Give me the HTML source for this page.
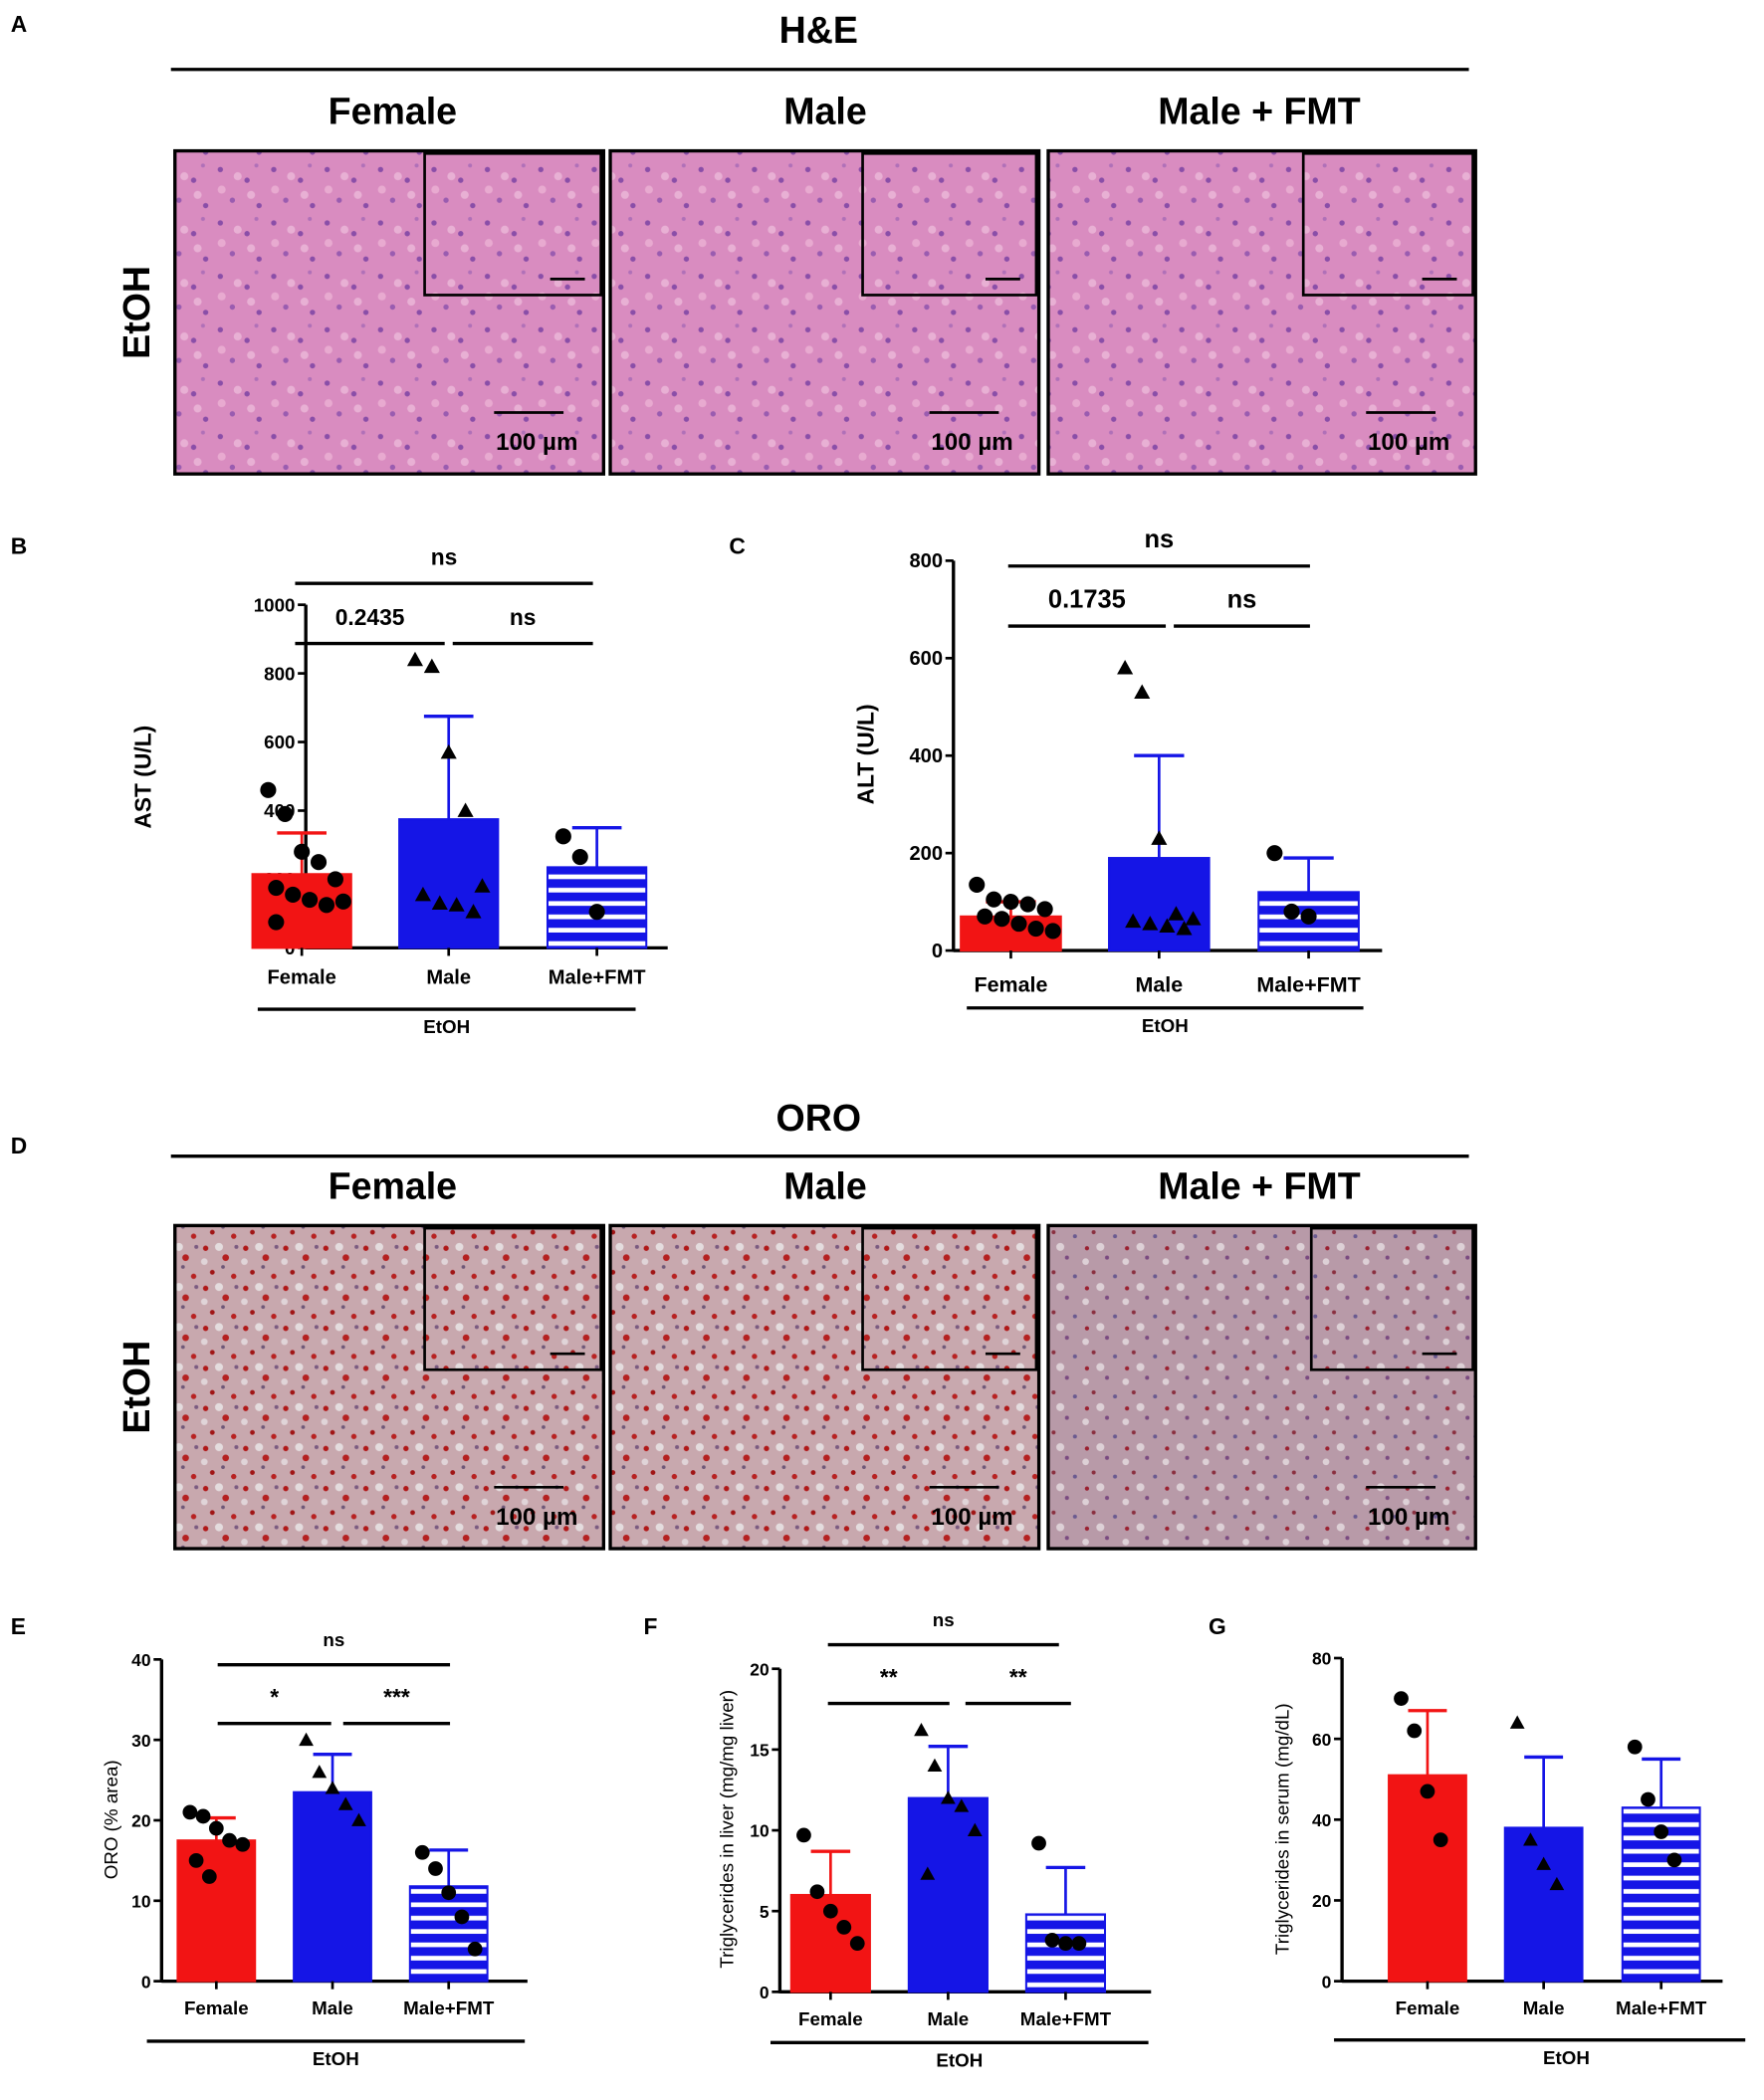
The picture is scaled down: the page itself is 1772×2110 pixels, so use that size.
<!DOCTYPE html>
<html><head><meta charset="utf-8"><style>
html,body{margin:0;padding:0;background:#fff}
svg{display:block;font-family:"Liberation Sans",sans-serif}
</style></head><body>
<svg id="fig" width="1772" height="2110" viewBox="0 0 1321 1573" xmlns="http://www.w3.org/2000/svg">
<defs>
<pattern id="stripes" width="10" height="10" patternUnits="userSpaceOnUse"><rect width="10" height="10" fill="#1515e6"/><rect y="5" width="10" height="3.5" fill="#fff"/></pattern>
<pattern id="he" width="40" height="40" patternUnits="userSpaceOnUse"><rect width="40" height="40" fill="#d98cc0"/><circle cx="5" cy="7" r="2" fill="#8a4ea8"/><circle cx="25" cy="15" r="2" fill="#8a4ea8"/><circle cx="14" cy="30" r="2" fill="#9a5cb0"/><circle cx="34" cy="34" r="2" fill="#8a4ea8"/><circle cx="32" cy="4" r="1.5" fill="#b070b8"/><circle cx="18" cy="12" r="3" fill="#e8b0d4"/><circle cx="6" cy="22" r="3" fill="#e8aad0"/><circle cx="28" cy="26" r="3" fill="#e8b0d4"/></pattern>
<pattern id="oro" width="30" height="30" patternUnits="userSpaceOnUse"><rect width="30" height="30" fill="#c8a8ae"/><circle cx="4" cy="5" r="2" fill="#b01818"/><circle cx="19" cy="12" r="2.5" fill="#b52020"/><circle cx="9" cy="23" r="1.8" fill="#a01515"/><circle cx="25" cy="26" r="2" fill="#b82222"/><circle cx="14" cy="4" r="3" fill="#e4dcde"/><circle cx="27" cy="4" r="1.5" fill="#7a5a80"/><circle cx="3" cy="15" r="2.5" fill="#e0d4d8"/><circle cx="17" cy="19" r="1.4" fill="#6e5878"/></pattern>
<pattern id="oro2" width="30" height="30" patternUnits="userSpaceOnUse"><rect width="30" height="30" fill="#b89aa8"/><circle cx="4" cy="5" r="1.6" fill="#9a2030"/><circle cx="19" cy="12" r="1.5" fill="#7a4a80"/><circle cx="9" cy="23" r="1.5" fill="#8a3040"/><circle cx="25" cy="26" r="1.5" fill="#6a5a90"/><circle cx="14" cy="4" r="3" fill="#ddd0d6"/><circle cx="3" cy="15" r="2.5" fill="#ddd0d6"/></pattern>
</defs>
<g id="root"></g>
</svg>
<script>
// ---- Panel B: AST ----
const bCats = ["Female","Male","Male+FMT"];
const bMeans = [215, 375, 235];
const bSD = [335, 675, 350];
const bPts = [[460,390,280,250,200,175,155,140,125,135,75],[840,820,570,400,180,155,130,125,105],[325,265,105]];
const bTicks = [0,200,400,600,800,1000];
// ---- Panel C: ALT ----
const cCats = ["Female","Male","Male+FMT"];
const cMeans = [70, 190, 120];
const cSD = [100, 400, 190];
const cPts = [[135,105,100,95,85,70,65,55,45,40],[580,530,230,75,65,60,55,50,45],[200,80,70]];
const cTicks = [0,200,400,600,800];
// ---- Panel E: ORO ----
const eCats = ["Female","Male","Male+FMT"];
const eMeans = [17.5, 23.5, 11.8];
const eSD = [20.3, 28.2, 16.3];
const ePts = [[21,20.5,19,17.5,17,15,13],[30,26,24,22,20],[16,14,11,8,4]];
const eTicks = [0,10,20,30,40];
// ---- Panel F: TG liver ----
const fCats = ["Female","Male","Male+FMT"];
const fMeans = [6, 12, 4.8];
const fSD = [8.7, 15.2, 7.7];
const fPts = [[9.7,6.2,5,4,3],[16.2,14,12,11.5,10,7.3],[9.2,3.2,3,3]];
const fTicks = [0,5,10,15,20];
// ---- Panel G: TG serum ----
const gCats = ["Female","Male","Male+FMT"];
const gMeans = [51, 38, 43];
const gSD = [67, 55.5, 55];
const gPts = [[70,62,47,35],[64,35,29,24],[58,45,37,30]];
const gTicks = [0,20,40,60,80];

const NS="http://www.w3.org/2000/svg";
const root=document.getElementById('root');
function mk(tag,attrs,parent,text){const e=document.createElementNS(NS,tag);for(const k in attrs)e.setAttribute(k,attrs[k]);if(text!==undefined)e.textContent=text;(parent||root).appendChild(e);return e;}
function T(x,y,s,size,opt){opt=opt||{};const e=mk('text',{x:x,y:y,'font-size':size,'text-anchor':opt.anchor||'middle','font-weight':opt.w||'bold',fill:opt.fill||'#000'},opt.p,s);if(opt.rot)e.setAttribute('transform','rotate(-90 '+x+' '+y+')');return e;}

[["A",8,24],["B",8,415],["C",546,415],["D",8,864],["E",8,1224],["F",482,1224],["G",905,1224]].forEach(l=>{const t=T(l[1],l[2],l[0],17,{anchor:'start'});});

function micro(title,ty,ly,imgY,pat,insets,nm){
  const g=mk('g',{});
  T(613,ty,title,28,{p:g});
  mk('line',{x1:128,y1:ly,x2:1100,y2:ly,stroke:'#000','stroke-width':2.5},g);
  const cols=[["Female",294,131,452],["Male",618,457,778],["Male + FMT",943,785,1105]];
  cols.forEach((c,i)=>{
    T(c[1],imgY-20,c[0],28,{p:g});
    const r=mk('rect',{x:c[2],y:imgY,width:c[3]-c[2],height:242,fill:'url(#'+(pat[i])+')',stroke:'#000','stroke-width':2.5},g);
    
    const ins=insets[i];
    mk('rect',{x:ins,y:imgY+2,width:c[3]-2-ins,height:106,fill:'url(#'+pat[i]+')',stroke:'#000','stroke-width':2},g);
    mk('line',{x1:ins+(c[3]-ins)-40,y1:imgY+96,x2:ins+(c[3]-ins)-14,y2:imgY+96,stroke:'#000','stroke-width':2},g);
    mk('line',{x1:c[3]-82,y1:imgY+196,x2:c[3]-30,y2:imgY+196,stroke:'#000','stroke-width':2},g);
    T(c[3]-50,imgY+224,"100 µm",18,{p:g});
  });
  T(112,imgY+121,"EtOH",28,{rot:true,p:g});
}
micro("H&E",32,52,113,['he','he','he'],[318,646,976],'he');
micro("ORO",847,866,918,['oro','oro','oro2'],[318,646,982],'oro');

function chart(o){
  const g=mk('g',{});
  const y=v=>o.y0-(v/o.max)*(o.y0-o.yTop);
  const fs=o.fs||14;
  mk('line',{x1:o.ax,y1:o.yTop,x2:o.ax,y2:o.y0+1,stroke:'#000','stroke-width':2.5},g);
  mk('line',{x1:o.ax,y1:o.y0,x2:o.axEnd,y2:o.y0,stroke:'#000','stroke-width':2.5},g);
  o.ticks.forEach(t=>{const yy=y(t);mk('line',{x1:o.ax-6,y1:yy,x2:o.ax,y2:yy,stroke:'#000','stroke-width':2},g);const tl=T(o.ax-8,yy+5,String(t),fs,{anchor:'end',p:g});});
  const yl=T(o.ylx,o.yly,o.ylabel,o.ylfs||17,{rot:true,w:o.ylw||'bold',p:g});
  const fills=['#f21414','#1515e6','url(#stripes)'];const ec=['#f21414','#1515e6','#1515e6'];
  o.cats.forEach((c,i)=>{
    const cx=o.cx[i],w=o.bw;
    const b=mk('rect',{x:cx-w/2,y:y(o.means[i]),width:w,height:o.y0-y(o.means[i]),fill:fills[i],stroke:ec[i],'stroke-width':1.5},g);
    
    mk('line',{x1:cx,y1:y(o.means[i]),x2:cx,y2:y(o.sd[i]),stroke:ec[i],'stroke-width':2},g);
    mk('line',{x1:cx-w*0.25,y1:y(o.sd[i]),x2:cx+w*0.25,y2:y(o.sd[i]),stroke:ec[i],'stroke-width':2.5},g);
    mk('line',{x1:cx,y1:o.y0,x2:cx,y2:o.y0+6,stroke:'#000','stroke-width':2},g);
    const xl=T(cx,o.xly,c,fs+1,{p:g});
    const pts=o.pts[i];const n=pts.length;
    pts.forEach((v,k)=>{const dx=(n>1?((k%5)-2)*w*0.17:0)+((k>=5)?w*0.08:0);const px=cx+dx,py=y(v);let m;
      if(i===1) m=mk('polygon',{points:(px)+','+(py-o.ms)+' '+(px-o.ms)+','+(py+o.ms*0.8)+' '+(px+o.ms)+','+(py+o.ms*0.8),fill:'#000'},g);
      else m=mk('circle',{cx:px,cy:py,r:o.ms,fill:'#000'},g);
      });
  });
  (o.brackets||[]).forEach(b=>{mk('line',{x1:b[0],y1:b[2],x2:b[1],y2:b[2],stroke:'#000','stroke-width':2.5},g);const st=T((b[0]+b[1])/2,b[2]-14,b[3],b[4]||17,{p:g});});
  mk('line',{x1:o.et[0],y1:o.et[2],x2:o.et[1],y2:o.et[2],stroke:'#000','stroke-width':2.5},g);
  T((o.et[0]+o.et[1])/2+(o.etOff||0),o.et[2]+18,"EtOH",14,{p:g});
}
chart({name:'ast-chart',cats:bCats,means:bMeans,sd:bSD,pts:bPts,ticks:bTicks,max:1000,ax:229,axEnd:500,y0:710,yTop:453,cx:[226,336,447],bw:74,ms:6,ylabel:"AST (U/L)",ylx:113,yly:582,xly:737,fs:14,
  brackets:[[221,444,437,"ns"],[221,333,482,"0.2435"],[339,444,482,"ns"]],et:[193,476,756]});
chart({name:'alt-chart',cats:cCats,means:cMeans,sd:cSD,pts:cPts,ticks:cTicks,max:800,ax:714,axEnd:1035,y0:712,yTop:420,cx:[757,868,980],bw:75,ms:6,ylabel:"ALT (U/L)",ylx:654,yly:565,xly:743,fs:15,
  brackets:[[755,981,424,"ns",19],[755,873,469,"0.1735",19],[879,981,469,"ns",19]],et:[724,1021,755]});
chart({name:'oro-chart',cats:eCats,means:eMeans,sd:eSD,pts:ePts,ticks:eTicks,max:40,ax:121,axEnd:395,y0:1484,yTop:1243,cx:[162,249,336],bw:58,ms:5.5,ylabel:"ORO (% area)",ylx:88,yly:1363,ylw:'normal',ylfs:14,xly:1509,fs:13,
  brackets:[[163,337,1247,"ns",14],[163,248,1291,"*",17],[257,337,1291,"***",17]],et:[110,393,1529]});
chart({name:'tg-liver-chart',cats:fCats,means:fMeans,sd:fSD,pts:fPts,ticks:fTicks,max:20,ax:584,axEnd:862,y0:1492,yTop:1250,cx:[622,710,798],bw:59,ms:5.5,ylabel:"Triglycerides in liver (mg/mg liver)",ylx:549,yly:1370,ylw:'normal',ylfs:14,xly:1517,fs:13,
  brackets:[[620,793,1232,"ns",14],[620,711,1276,"**",17],[723,802,1276,"**",17]],et:[577,860,1530]});
chart({name:'tg-serum-chart',cats:gCats,means:gMeans,sd:gSD,pts:gPts,ticks:gTicks,max:80,ax:1005,axEnd:1290,y0:1484,yTop:1242,cx:[1069,1156,1244],bw:58,ms:5.5,ylabel:"Triglycerides in serum (mg/dL)",ylx:965,yly:1370,ylw:'normal',ylfs:14,xly:1509,fs:13,
  brackets:[],et:[999,1307,1528],etOff:20});
</script>
</body></html>
